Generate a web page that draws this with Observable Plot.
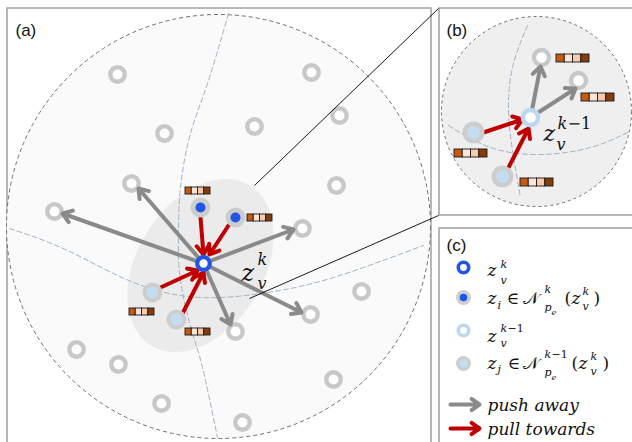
<!DOCTYPE html>
<html><head><meta charset="utf-8">
<script src="https://cdn.jsdelivr.net/npm/d3@7"></script>
<script src="https://cdn.jsdelivr.net/npm/@observablehq/plot@0.6"></script>
<style>body{margin:0;background:#fff}</style>
</head><body><div id="chart"></div>
<script>
// ---------- data (pixel space of the 632x442 figure) ----------
const panelFrames = [
  {id: "a", x1: 7, y1: 8, x2: 431, y2: 470},
  {id: "b", x1: 439, y1: 8, x2: 660, y2: 215},
  {id: "c", x1: 439, y1: 228, x2: 660, y2: 470}
];
const sphereA = [{x: 218, y: 226}];
const sphereB = [{x: 536, y: 111}];
const neighbourhood = [{x: 200, y: 265}];
const guideCurves = [
  {id: "a-v", pts: [[228,13],[207,83],[190,133],[180,187],[178,233],[180,280],[192,333],[202,367],[217,437]]},
  {id: "a-h", pts: [[9,228],[67,250],[133,282],[200,297],[267,292],[333,277],[423,245]]},
  {id: "b-v", pts: [[527,25],[512,67],[508,110],[512,150],[520,197]]},
  {id: "b-h", pts: [[448,125],[490,147],[540,154],[590,147],[627,132]]}
];
const zoomLinks = [
  {x1: 254, y1: 185, x2: 438, y2: 8},
  {x1: 249, y1: 298, x2: 438, y2: 215}
];
const ringsA = [[117,74],[311,72],[339,115],[164,133],[254,126],[336,185],[131,183],[54,211],[302,228],[361,291],[310,314],[235,331],[76,349],[118,364],[333,379],[161,403],[242,422]];
const ringsB = [[541,57],[578,80]];
const centerA = [[203,263]];
const centerB = [[530,117]];
const neighboursK_A = [[200,207],[235,217]];
const neighboursPrev_A = [[152,292],[176,319]];
const neighboursPrev_B = [[473,132],[502,176]];
const pushA = [[203,263,138,188],[203,263,62,213],[203,263,293,229],[203,263,301,312],[203,263,230,324]];
const pullA = [[200,217,203,254],[228,225,209,254],[160,287,197,270],[182,313,203,272]];
const pushB = [[530,117,540,66],[530,117,575,88]];
const pullB = [[483,132,522,119],[508,167,528,128]];
const barsA = [[185,187],[247,214],[129,308],[185,328]];
const barsB = [[556,54],[581,93],[454,149],[520,178]];
const barColors = ["#c55a11", "#fbe5d6", "#f8cbad", "#843c0c"];
const panelTags = [{t: "(a)", x: 15, y: 35}, {t: "(b)", x: 446, y: 35}, {t: "(c)", x: 446, y: 250}];
const legendRows = {ringK: [[463,267]], discK: [[463,297]], ringPrev: [[463,330]], discPrev: [[463,363]]};
const legendArrows = {push: [[450,404,479,404]], pull: [[450,428,479,428]]};
// math labels: [text, x, baseline, size, italic]
const mathText = [
  ["z",241,280,24,1],["k",257,264,16,1],["v",257,288,16,1],
  ["z",543,140,22,1],["k",557,128,16,1],["−1",567,128,16,0],["v",556,149,16,1],
  ["z",487,275,17,1],["k",500,267,11,1],["v",500,283,11,1],
  ["z",487,303,17,1],["i",497,308,11,1],["∈",506,303,17,0],["𝒩",522,303,17,0],["k",544,292,11,1],["p",544,310,11,1],["e",551,314,8,1],["(",564,303,17,0],["z",571,303,17,1],["k",582,294,11,1],["v",582,309,11,1],[")",593,303,17,0],
  ["z",487,341,17,1],["k",500,331,11,1],["−1",507,331,11,0],["v",500,346,11,1],
  ["z",487,368,17,1],["j",497,372,11,1],["∈",507,368,17,0],["𝒩",522,368,17,0],["k",544,357,11,1],["−1",551,357,11,0],["p",544,375,11,1],["e",551,379,8,1],["(",571,368,17,0],["z",578,368,17,1],["k",590,359,11,1],["v",590,374,11,1],[")",602,368,17,0],
  ["push away",487,410,17,1],["pull towards",487,434,17,1]
];

// ---------- helpers ----------
const pts = a => a.map(([x, y]) => ({x, y}));
const segs = a => a.map(([x1, y1, x2, y2]) => ({x1, y1, x2, y2}));
const guideRows = guideCurves.flatMap(c => c.pts.map(([x, y]) => ({id: c.id, x, y})));
const cells = (bars, w, h) => bars.flatMap(([x, y]) => barColors.map((c, i) => ({x1: x + i * w, x2: x + (i + 1) * w, y1: y, y2: y + h, c})));
const labels = mathText.map(([t, x, y, s, it]) => ({t, x, y, s, it}));

function ellipseSymbol(a, b, deg) {
  const th = deg * Math.PI / 180, c = Math.cos(th), s = Math.sin(th);
  const P = t => [a*Math.cos(t)*c - b*Math.sin(t)*s, a*Math.cos(t)*s + b*Math.sin(t)*c];
  const D = t => [-a*Math.sin(t)*c - b*Math.cos(t)*s, -a*Math.sin(t)*s + b*Math.cos(t)*c];
  const k = 0.5523;
  return {draw(ctx) {
    let p = P(0); ctx.moveTo(p[0], p[1]);
    for (let q = 0; q < 4; q++) {
      const t0 = q*Math.PI/2, t1 = (q+1)*Math.PI/2;
      const p0 = P(t0), d0 = D(t0), p1 = P(t1), d1 = D(t1);
      ctx.bezierCurveTo(p0[0]+k*d0[0], p0[1]+k*d0[1], p1[0]-k*d1[0], p1[1]-k*d1[1], p1[0], p1[1]);
    }
    ctx.closePath();
  }};
}

const grey = "#8a8a8a", red = "#c00000", blue = "#2155e5", lightBlue = "#c3dcf0", ringGrey = "#c8c8c8", discGrey = "#cdcdcd";
const mathFont = "DejaVu Serif";
const arrowOpts = {x1: "x1", y1: "y1", x2: "x2", y2: "y2", strokeWidth: 4, headLength: 4, headAngle: 70};

const chart = Plot.plot({
  width: 632, height: 442, margin: 0,
  x: {domain: [0, 632], range: [0, 632], axis: null},
  y: {domain: [0, 442], range: [0, 442], axis: null},
  style: {background: "white", overflow: "hidden"},
  marks: [
    Plot.rect(panelFrames, {x1: "x1", x2: "x2", y1: "y1", y2: "y2", fill: "white", stroke: "#9a9a9a", strokeWidth: 1.4}),
    Plot.dot(sphereA, {x: "x", y: "y", r: 212, fill: "#fafafa", stroke: "#6f6f6f", strokeWidth: 1, strokeDasharray: "4,3"}),
    Plot.dot(sphereB, {x: "x", y: "y", r: 95, fill: "#efefef", stroke: "#6f6f6f", strokeWidth: 1, strokeDasharray: "3,3"}),
    Plot.dot(neighbourhood, {x: "x", y: "y", r: 10, symbol: ellipseSymbol(94, 63, -58), fill: "#ebebeb", stroke: "none"}),
    Plot.line(guideRows, {x: "x", y: "y", z: "id", curve: "natural", stroke: "#9fb1c6", strokeWidth: 1, strokeDasharray: "5,3"}),
    Plot.dot(pts(ringsA), {x: "x", y: "y", r: 7.2, fill: "white", stroke: ringGrey, strokeWidth: 4.4}),
    Plot.dot(pts(ringsB), {x: "x", y: "y", r: 7.5, fill: "white", stroke: ringGrey, strokeWidth: 4.4}),
    Plot.arrow(segs(pushA), {...arrowOpts, stroke: grey}),
    Plot.arrow(segs(pullA), {...arrowOpts, stroke: red}),
    Plot.arrow(segs(pushB), {...arrowOpts, stroke: grey}),
    Plot.arrow(segs(pullB), {...arrowOpts, stroke: red}),
    Plot.dot(pts(neighboursK_A), {x: "x", y: "y", r: 10, fill: discGrey}),
    Plot.dot(pts(neighboursK_A), {x: "x", y: "y", r: 5, fill: blue}),
    Plot.dot(pts(neighboursPrev_A), {x: "x", y: "y", r: 10, fill: discGrey}),
    Plot.dot(pts(neighboursPrev_A), {x: "x", y: "y", r: 6, fill: lightBlue}),
    Plot.dot(pts(neighboursPrev_B), {x: "x", y: "y", r: 11, fill: discGrey}),
    Plot.dot(pts(neighboursPrev_B), {x: "x", y: "y", r: 6.5, fill: lightBlue}),
    Plot.dot(pts(centerA), {x: "x", y: "y", r: 6.3, fill: "white", stroke: blue, strokeWidth: 4.2}),
    Plot.dot(pts(centerB), {x: "x", y: "y", r: 7.6, fill: "white", stroke: "#bcd7ee", strokeWidth: 4.5}),
    Plot.link(zoomLinks, {x1: "x1", y1: "y1", x2: "x2", y2: "y2", stroke: "black", strokeWidth: 0.9}),
    Plot.rect(cells(barsA, 6.25, 7), {x1: "x1", x2: "x2", y1: "y1", y2: "y2", fill: "c", stroke: "#1a1a1a", strokeWidth: 0.9}),
    Plot.rect(cells(barsB, 8.25, 8), {x1: "x1", x2: "x2", y1: "y1", y2: "y2", fill: "c", stroke: "#1a1a1a", strokeWidth: 0.9}),
    // legend symbols
    Plot.dot(pts(legendRows.ringK), {x: "x", y: "y", r: 5.2, fill: "white", stroke: blue, strokeWidth: 3.6}),
    Plot.dot(pts(legendRows.discK), {x: "x", y: "y", r: 7.5, fill: discGrey}),
    Plot.dot(pts(legendRows.discK), {x: "x", y: "y", r: 3.8, fill: blue}),
    Plot.dot(pts(legendRows.ringPrev), {x: "x", y: "y", r: 5.2, fill: "white", stroke: "#bcd7ee", strokeWidth: 3.6}),
    Plot.dot(pts(legendRows.discPrev), {x: "x", y: "y", r: 7.5, fill: discGrey}),
    Plot.dot(pts(legendRows.discPrev), {x: "x", y: "y", r: 4.5, fill: lightBlue}),
    Plot.arrow(segs(legendArrows.push), {...arrowOpts, stroke: grey}),
    Plot.arrow(segs(legendArrows.pull), {...arrowOpts, stroke: red}),
    // text
    Plot.text(panelTags, {x: "x", y: "y", text: "t", textAnchor: "start", lineAnchor: "bottom", fontSize: 17, fontFamily: "Liberation Sans", fill: "#111"}),
    Plot.text(labels.filter(d => d.it), {x: "x", y: "y", text: "t", fontSize: "s", textAnchor: "start", lineAnchor: "bottom", fontFamily: mathFont, fontStyle: "italic", fill: "#111"}),
    Plot.text(labels.filter(d => !d.it), {x: "x", y: "y", text: "t", fontSize: "s", textAnchor: "start", lineAnchor: "bottom", fontFamily: mathFont, fill: "#111"})
  ]
});
document.getElementById("chart").append(chart);
</script>
</body></html>
